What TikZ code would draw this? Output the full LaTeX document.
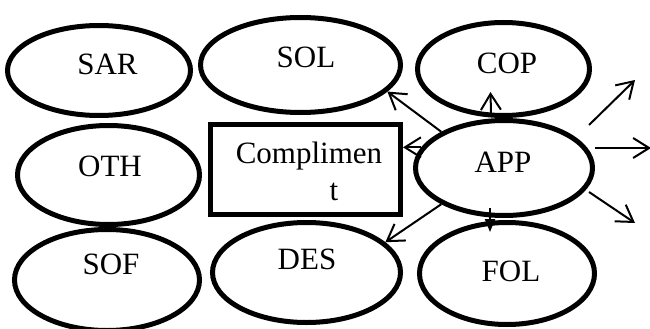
\documentclass[tikz,border=0pt]{standalone}
\usepackage{fontspec}
\setmainfont{Liberation Serif}
\usetikzlibrary{shapes.geometric,arrows.meta}

\begin{document}
\begin{tikzpicture}[x=1pt,y=-1pt,
	oval/.style={draw=BLACK, ellipse, line width=5, inner sep=0},
	lbl/.style={font=\fontsize{31}{37}\selectfont, text=BLACK, inner sep=0},
	link/.style={BLACK, line width=2, -{Straight Barb[length=16pt,width=20pt]}},
	push/.style={BLACK, line width=2, -{Triangle[length=13pt,width=10pt]}}]

\definecolor{BLACK}{RGB}{0,0,0}
\definecolor{WHITE}{RGB}{255,255,255}
\useasboundingbox[fill=WHITE] (0,0) rectangle (650,329);

% ovals
\node[oval, minimum width=183, minimum height=90] (SAR) at (99,70.5) {};
\node[oval, minimum width=200, minimum height=95] (SOL) at (300.5,65) {};
\node[oval, minimum width=172, minimum height=93] (COP) at (503.5,69) {};
\node[oval, minimum width=182, minimum height=99] (OTH) at (108.5,175) {};
\node[oval, minimum width=177, minimum height=95] (APP) at (504,168) {};
\node[oval, minimum width=185, minimum height=101] (SOF) at (107,280) {};
\node[oval, minimum width=188, minimum height=100] (DES) at (306.5,272.5) {};
\node[oval, minimum width=175, minimum height=102] (FOL) at (507,273.5) {};

% box
\node[draw=BLACK, line width=5, minimum width=190, minimum height=90,
	inner sep=0] (CMP) at (305.5,169.5) {};
\node[lbl, anchor=base] (CMPtop) at (309,163) {Complimen};
\node[lbl, anchor=base] (CMPbot) at (334,200) {t};

% texts
\node[lbl] (SARtext) at (107.5,64) {SAR};
\node[lbl] (SOLtext) at (306,57) {SOL};
\node[lbl] (COPtext) at (507,63) {COP};
\node[lbl] (OTHtext) at (110,166) {OTH};
\node[lbl] (APPtext) at (503,162.5) {APP};
\node[lbl] (SOFtext) at (111,264) {SOF};
\node[lbl] (DEStext) at (307,259) {DES};
\node[lbl] (FOLtext) at (511,271) {FOL};

% free ends
\coordinate (NE) at (635,80);
\coordinate (EA) at (651,148);
\coordinate (SE) at (635,223);

% arrows
\draw[link] (APP.150) -- (SOL.-17);
\draw[link] ([xshift=-13,yshift=4]APP.north) -- ([xshift=-13,yshift=26]COP.south);
\draw[link] (APP.166) -- (APP.166 -| CMP.east);
\draw[link] (APP.-150) -- (DES.21);
\draw[push] ([xshift=-14,yshift=10]APP.south) -- ([xshift=-17,yshift=-12]FOL.north);
\draw[link] ([xshift=-6,yshift=43]APP.east) -- (NE);
\draw[link] ([yshift=20]APP.east) -- (EA);
\draw[link] ([xshift=-6,yshift=-24]APP.east) -- (SE);
\end{tikzpicture}
\end{document}
